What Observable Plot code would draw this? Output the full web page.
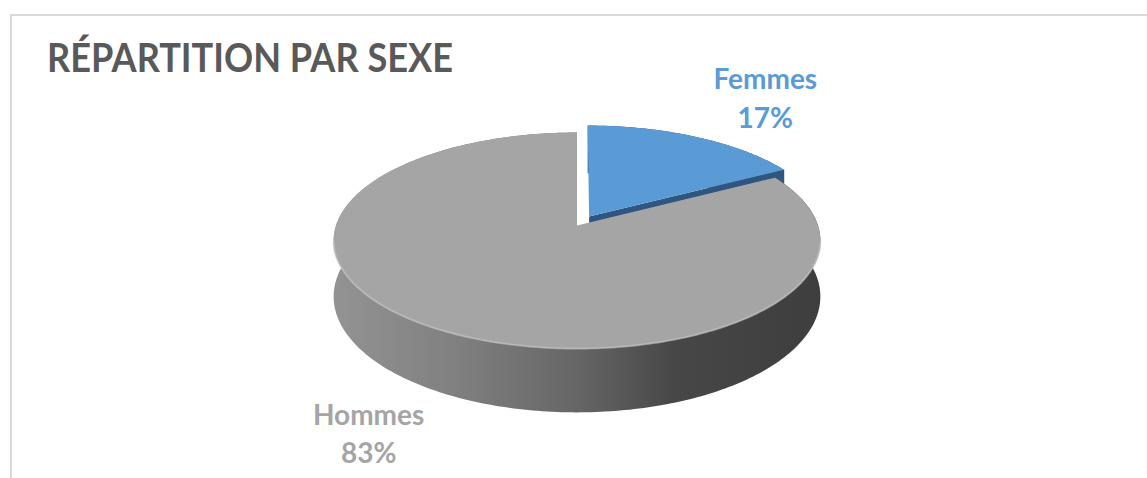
<!DOCTYPE html>
<html><head><meta charset="utf-8">
<script src="https://cdn.jsdelivr.net/npm/d3@7"></script>
<script src="https://cdn.jsdelivr.net/npm/@observablehq/plot@0.6"></script>
<style>
html,body{margin:0;padding:0;background:#fff;overflow:hidden;width:1147px;height:478px;position:relative}
#frame{position:absolute;left:10px;top:14px;width:1200px;height:600px;border:2px solid #d9d9d9;box-sizing:border-box}
#chart{position:absolute;left:0;top:0}
#title{position:absolute;left:47px;top:33px;font:bold 40px Lato;line-height:1.2;color:#595959;transform-origin:left top;white-space:nowrap;margin:0}
</style></head>
<body>
<div id="frame"></div>
<div id="chart"></div>
<h1 id="title">RÉPARTITION PAR SEXE</h1>
<script>
// ---- data ----
const categories = ["Femmes", "Hommes"];
const values = [17, 83];

// ---- layout / 3D projection parameters ----
const W = 1147, H = 478;
const cx = 576.5, cy = 225, rx = 241, ry = 105.9;
const persp = 0.139;          // perspective foreshortening
const depth = 55 / ry;        // wall thickness in y-units
const explodedCategory = "Femmes", explodeAmt = 0.1;
const topColor = {Femmes: "#5b9bd5", Hommes: "#a5a5a5"};
const labelColor = {Femmes: "#5b9bd5", Hommes: "#a5a5a5"};
const wallFill = {Femmes: "#2f5680", Hommes: "url(#wallGrad)"};

const total = d3.sum(values);
const table = categories.map((c, i) => ({category: c, value: values[i]}));
const arcs = d3.pie().sort(null).value(d => d.value).startAngle(0)(table);

function proj(phi, r, h, ex, ez) {
  const X = r * Math.sin(phi) + ex;
  const Z = -r * Math.cos(phi) + ez;
  const den = 1 - persp * Z;
  return {u: X / den, v: (Z + h * depth) / den};
}
const deg = Math.PI / 180;
function arcAngles(a0, a1) {
  const n = Math.max(2, Math.ceil((a1 - a0) / deg));
  return d3.range(n + 1).map(k => a0 + (a1 - a0) * k / n);
}

const tops = [], walls = [], cuts = [], shadow = [], rims = [];
for (const a of arcs) {
  const c = a.data.category;
  const mid = (a.startAngle + a.endAngle) / 2;
  const e = c === explodedCategory ? explodeAmt : 0;
  const ex = e * Math.sin(mid), ez = -e * Math.cos(mid);
  const angs = arcAngles(a.startAngle, a.endAngle);
  tops.push({...proj(0, 0, 0, ex, ez), id: c});
  for (const t of angs) tops.push({...proj(t, 1, 0, ex, ez), id: c});
  for (const t of angs) walls.push({...proj(t, 1, 0, ex, ez), id: c});
  for (const t of angs.slice().reverse()) walls.push({...proj(t, 1, 1, ex, ez), id: c});
  const ea = a.endAngle;
  if (ea < 2 * Math.PI - 1e-6) {
    cuts.push({...proj(ea, 0, 0, ex, ez), id: c});
    cuts.push({...proj(ea, 1, 0, ex, ez), id: c});
    cuts.push({...proj(ea, 1, 1, ex, ez), id: c});
    cuts.push({...proj(ea, 0, 1, ex, ez), id: c});
  }
  for (const t of angs.filter(t => t > 100 * deg && t < 262 * deg)) rims.push({...proj(t, 1, 0, ex, ez), id: c});
}
for (const t of arcAngles(0, 2 * Math.PI)) { const p = proj(t, 1, 1, 0, 0); shadow.push({u: p.u, v: p.v + 4 / ry}); }

// labels: outside end, along the slice's mid-angle
const Lx = 86, Ly = 68;
const labels = arcs.map(a => {
  const c = a.data.category;
  const mid = (a.startAngle + a.endAngle) / 2;
  const e = c === explodedCategory ? explodeAmt : 0;
  const ex = e * Math.sin(mid), ez = -e * Math.cos(mid);
  const front = -Math.cos(mid) > 0;
  const p = proj(mid, 1, front ? 1 : 0, ex, ez);
  const dx = rx * Math.sin(mid), dy = -ry * Math.cos(mid), n = Math.hypot(dx, dy);
  return {
    category: c,
    text: c + "\n" + Math.round(a.data.value / total * 100) + "%",
    u: p.u + Lx * dx / n / rx,
    v: p.v + Ly * dy / n / ry
  };
});

const byCat = c => d => d.id === c;
const order = ["Femmes", "Hommes"];
const marks = [
  () => {
    const defs = d3.create("svg:defs");
    const g = defs.append("linearGradient").attr("id", "wallGrad").attr("x1", 0).attr("x2", 1).attr("y1", 0).attr("y2", 0);
    [[0, "#939393"], [0.25, "#808080"], [0.5, "#666666"], [0.7, "#474747"], [1, "#3e3e3e"]]
      .forEach(([o, col]) => g.append("stop").attr("offset", o).attr("stop-color", col));
    defs.append("filter").attr("id", "blur").attr("x", "-20%").attr("y", "-20%").attr("width", "140%").attr("height", "140%")
      .append("feGaussianBlur").attr("stdDeviation", 5);
    return defs.node();
  },
  Plot.line(shadow, {x: "u", y: "v", fill: "#000", fillOpacity: 0.28, stroke: "none", ariaLabel: "shadow"})
];
for (const c of order) {
  marks.push(Plot.line(walls.filter(byCat(c)), {x: "u", y: "v", fill: wallFill[c], stroke: "none"}));
  marks.push(Plot.line(cuts.filter(byCat(c)), {x: "u", y: "v", fill: "#2f5680", stroke: "none"}));
  marks.push(Plot.line(tops.filter(byCat(c)), {x: "u", y: "v", fill: topColor[c], stroke: "none"}));
  marks.push(Plot.line(rims.filter(byCat(c)), {x: "u", y: "v", stroke: "#bdbdbd", strokeWidth: 2, strokeOpacity: 0.7}));
}
marks.push(Plot.text(labels, {x: "u", y: "v", text: "text", fill: d => labelColor[d.category],
  fontSize: 28, fontWeight: "bold", fontFamily: "Lato", lineHeight: 1.36, lineAnchor: "middle", textAnchor: "middle"}));

const plot = Plot.plot({
  width: W, height: H, margin: 0,
  x: {domain: [-cx / rx, (W - cx) / rx], range: [0, W], axis: null},
  y: {domain: [-cy / ry, (H - cy) / ry], range: [0, H], axis: null},
  style: {background: "transparent", overflow: "visible"},
  marks
});
d3.select(plot).selectAll("g[aria-label=shadow]").attr("filter", "url(#blur)");
document.getElementById("chart").appendChild(plot);

// fit title width to the reference
const title = document.getElementById("title");
const w = title.getBoundingClientRect().width;
title.style.transform = `scaleX(${406 / w})`;
</script>
</body></html>
